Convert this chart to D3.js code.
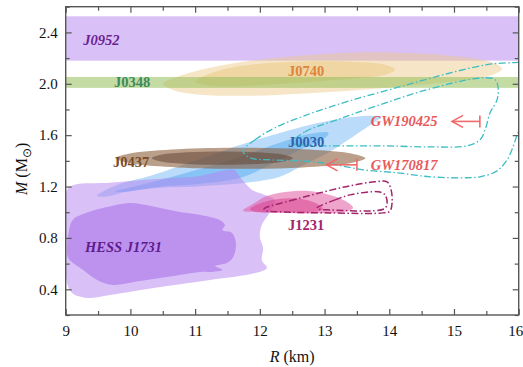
<!DOCTYPE html>
<html>
<head>
<meta charset="utf-8">
<script src="https://cdn.jsdelivr.net/npm/d3@7/dist/d3.min.js"></script>
<style>
  html, body { margin: 0; padding: 0; background: #fff; }
  svg { display: block; }
  text { font-family: "Liberation Serif", "Times New Roman", serif; }
</style>
</head>
<body>
<svg id="chart" width="523" height="367"></svg>
<script>
// ---------------- data (R in km, M in solar masses) ----------------
const xDomain = [9, 16];
const yDomain = [0.2, 2.6];
const xTickLabels = [9, 10, 11, 12, 13, 14, 15, 16];
const xMinorTicks = [9.5, 10.5, 11.5, 12.5, 13.5, 14.5, 15.5];
const yTickLabels = [0.4, 0.8, 1.2, 1.6, 2.0, 2.4];
const yMinorTicks = [0.2, 0.6, 1.0, 1.4, 1.8, 2.2, 2.6];

const j0952Band = [2.18, 2.525];
const j0348Band = [1.968, 2.053];

const hessOuter = [[9.02,1.174],[9.14,1.213],[9.68,1.229],[10.23,1.252],[10.69,1.268],[11.08,1.283],[11.42,1.322],[11.60,1.330],[11.70,1.268],[11.88,1.174],[12.08,1.135],[12.23,1.096],[12.16,1.003],[12.03,0.902],[12.00,0.808],[12.05,0.722],[12.03,0.629],[12.11,0.566],[11.93,0.527],[11.23,0.473],[10.46,0.418],[9.68,0.356],[9.33,0.333],[9.10,0.371],[9.02,0.449],[9.00,0.683],[9.00,0.940]];
const hessInner = [[9.11,0.940],[9.38,1.005],[9.68,1.044],[9.99,1.071],[10.35,1.044],[10.72,1.005],[11.08,0.979],[11.38,0.940],[11.46,0.901],[11.42,0.862],[11.57,0.839],[11.63,0.761],[11.59,0.654],[11.49,0.605],[11.31,0.582],[11.42,0.551],[11.23,0.535],[11.08,0.535],[10.61,0.499],[10.10,0.460],[9.73,0.434],[9.53,0.460],[9.27,0.551],[9.04,0.644],[9.02,0.732],[9.04,0.824]];

const j0030Outer = [[9.485,1.128],[9.84,1.221],[10.30,1.283],[10.72,1.353],[11.23,1.439],[11.65,1.517],[12.27,1.611],[12.78,1.681],[13.24,1.728],[13.70,1.751],[13.87,1.743],[13.78,1.704],[13.55,1.626],[13.08,1.470],[12.62,1.353],[12.31,1.276],[12.00,1.244],[11.43,1.213],[10.97,1.198],[10.46,1.190],[9.95,1.159],[9.61,1.120]];
const j0030Inner = [[9.76,1.159],[10.30,1.229],[10.92,1.315],[11.65,1.424],[12.31,1.541],[12.78,1.611],[13.06,1.619],[13.01,1.580],[12.62,1.486],[12.16,1.369],[11.70,1.268],[11.08,1.221],[10.46,1.198],[9.92,1.159]];

const j0437Outer = [[13.63,1.42],[13.371,1.461],[12.665,1.491],[11.70,1.502],[10.735,1.491],[10.029,1.461],[9.77,1.42],[10.029,1.379],[10.735,1.349],[11.70,1.338],[12.665,1.349],[13.371,1.379]];
const j0437Inner = [[12.51,1.421],[12.364,1.447],[11.965,1.466],[11.42,1.473],[10.875,1.466],[10.476,1.447],[10.33,1.421],[10.476,1.395],[10.875,1.376],[11.42,1.369],[11.965,1.376],[12.364,1.395]];

const j0740Outer = [[10.504,2.000],[10.767,2.063],[11.230,2.125],[11.849,2.180],[12.621,2.219],[13.394,2.242],[14.167,2.242],[14.940,2.219],[15.558,2.172],[15.743,2.117],[15.558,2.063],[14.940,2.016],[14.167,1.977],[13.394,1.946],[12.621,1.923],[11.849,1.907],[11.076,1.915],[10.689,1.946]];
const j0740Inner = [[10.998,2.016],[11.308,2.094],[11.849,2.149],[12.621,2.172],[13.394,2.172],[13.935,2.149],[14.090,2.110],[13.935,2.071],[13.394,2.039],[12.621,2.008],[11.849,1.985],[11.230,1.985]];

const j1231Outer = [[11.740,1.011],[11.926,1.073],[12.080,1.120],[12.312,1.151],[12.621,1.167],[12.853,1.159],[13.085,1.135],[13.317,1.089],[13.441,1.034],[13.317,1.003],[12.822,0.991],[12.312,0.995],[11.926,1.003]];
const j1231Inner = [[11.849,1.026],[12.034,1.073],[12.312,1.104],[12.621,1.104],[12.853,1.073],[12.977,1.026],[12.853,1.003],[12.312,0.999],[11.926,1.003]];
const j1231ContourOuter = [[12.065,1.026],[12.467,1.089],[12.930,1.151],[13.394,1.206],[13.780,1.237],[13.966,1.237],[14.028,1.174],[14.043,1.073],[14.012,1.010],[13.904,0.995],[13.085,0.995],[12.312,1.003],[12.096,1.011]];
const j1231ContourInner = [[12.884,1.034],[13.162,1.096],[13.394,1.135],[13.827,1.159],[13.935,1.135],[13.966,1.065],[13.920,1.026],[13.085,1.018],[12.899,1.026]];

const gwContourA = [[12.498,1.541],[12.699,1.626],[13.240,1.728],[13.858,1.837],[14.476,1.938],[15.141,2.024],[15.481,2.047],[15.635,2.032],[15.682,1.969],[15.666,1.876],[15.558,1.774],[15.481,1.642],[15.403,1.564],[15.202,1.517],[14.631,1.509],[13.858,1.517],[13.085,1.517],[12.621,1.524]];
const gwContourB = [[11.740,1.478],[11.926,1.564],[12.235,1.658],[12.776,1.767],[13.394,1.868],[14.167,1.977],[14.893,2.078],[15.511,2.149],[15.913,2.164],[16.145,2.156],[16.254,2.032],[16.223,1.837],[16.099,1.704],[15.990,1.619],[15.913,1.509],[15.820,1.408],[15.666,1.322],[15.403,1.276],[15.141,1.268],[14.631,1.276],[14.121,1.307],[13.595,1.330],[13.085,1.377],[12.621,1.400],[12.158,1.408],[11.849,1.424]];

const gwArrows = [
  { name: "GW190425", rMin: 14.97, rMax: 15.40, m: 1.707 },
  { name: "GW170817", rMin: 13.03, rMax: 13.50, m: 1.369 }
];

const labels = [
  { text: "J0952", r: 9.27, m: 2.299, color: "#6b1f93", italic: true },
  { text: "J0348", r: 9.746, m: 1.977, color: "#3a8c5c", italic: false },
  { text: "J0740", r: 12.436, m: 2.063, color: "#e0843a", italic: false },
  { text: "J0437", r: 9.731, m: 1.356, color: "#7b4a1e", italic: false },
  { text: "J0030", r: 12.436, m: 1.509, color: "#2e64ad", italic: false },
  { text: "GW190425", r: 13.714, m: 1.668, color: "#e8595a", italic: true },
  { text: "GW170817", r: 13.714, m: 1.330, color: "#e8595a", italic: true },
  { text: "J1231", r: 12.436, m: 0.863, color: "#a3246b", italic: false },
  { text: "HESS J1731", r: 9.298, m: 0.693, color: "#5e1b8f", italic: true }
];

// ---------------- drawing ----------------
const svg = d3.select("#chart");
const x = d3.scaleLinear().domain(xDomain).range([65.7, 518.7]);
const y = d3.scaleLinear().domain(yDomain).range([315, 6.7]);

svg.append("defs").append("clipPath").attr("id", "plotclip")
  .append("rect")
  .attr("x", x(xDomain[0])).attr("y", y(yDomain[1]))
  .attr("width", x(xDomain[1]) - x(xDomain[0]))
  .attr("height", y(yDomain[0]) - y(yDomain[1]));

const plot = svg.append("g").attr("clip-path", "url(#plotclip)");

const closed = d3.line().x(d => x(d[0])).y(d => y(d[1]))
  .curve(d3.curveCatmullRomClosed.alpha(0.5));

function band(b, fill) {
  plot.append("rect")
    .attr("x", x(xDomain[0])).attr("width", x(xDomain[1]) - x(xDomain[0]))
    .attr("y", y(b[1])).attr("height", y(b[0]) - y(b[1]))
    .attr("fill", fill);
}
function area(pts, fill) {
  plot.append("path").attr("d", closed(pts)).attr("fill", fill);
}
function contour(pts, color, width) {
  plot.append("path").attr("d", closed(pts))
    .attr("fill", "none").attr("stroke", color).attr("stroke-width", width)
    .attr("stroke-dasharray", "7,2.5,1.5,2.5");
}

band(j0952Band, "rgb(217,193,247)");
area(j0030Outer, "rgba(90,170,240,0.42)");
area(j0030Inner, "rgba(60,160,240,0.40)");
area(hessOuter, "rgba(180,130,240,0.5)");
area(hessInner, "rgba(160,100,230,0.5)");
area(j0437Outer, "rgba(140,95,60,0.6)");
area(j0437Inner, "rgba(100,70,55,0.55)");
area(j0740Outer, "rgba(235,200,130,0.45)");
area(j0740Inner, "rgba(230,195,120,0.45)");
band(j0348Band, "rgba(150,190,90,0.55)");
area(j1231Outer, "rgba(225,90,160,0.55)");
area(j1231Inner, "rgba(215,60,140,0.5)");

contour(gwContourA, "#3dbdc4", 1.3);
contour(gwContourB, "#3dbdc4", 1.3);
contour(j1231ContourOuter, "#a3246b", 1.5);
contour(j1231ContourInner, "#a3246b", 1.5);

// arrows
const arrowColor = "#ef6a6a";
gwArrows.forEach(a => {
  const g = svg.append("g").attr("stroke", arrowColor).attr("stroke-width", 1.6).attr("fill", "none");
  const x0 = x(a.rMin), x1 = x(a.rMax), yy = y(a.m);
  g.append("line").attr("x1", x0).attr("x2", x1).attr("y1", yy).attr("y2", yy);
  g.append("line").attr("x1", x1).attr("x2", x1).attr("y1", yy - 6).attr("y2", yy + 6);
  g.append("path").attr("d", `M${x0 + 11},${yy - 6}L${x0},${yy}L${x0 + 11},${yy + 6}`);
});

// labels
svg.append("g").selectAll("text").data(labels).join("text")
  .attr("x", d => x(d.r)).attr("y", d => y(d.m))
  .attr("fill", d => d.color)
  .attr("font-size", 14.5)
  .attr("font-weight", "bold")
  .attr("font-style", d => d.italic ? "italic" : "normal")
  .text(d => d.text);

// axes
const axisColor = "#555";
function styleAxis(g) {
  g.select(".domain").remove();
  g.selectAll(".tick line").attr("stroke", axisColor).attr("stroke-width", 1.2);
  g.selectAll(".tick text").attr("fill", "#111").attr("font-size", 15)
    .attr("font-family", '"Liberation Serif", "Times New Roman", serif');
}
const yTop = y(yDomain[1]), yBot = y(yDomain[0]), xL = x(xDomain[0]), xR = x(xDomain[1]);

const xAxisG = svg.append("g").attr("transform", `translate(0,${yBot})`)
  .call(d3.axisBottom(x).tickValues(xTickLabels).tickSize(-6).tickPadding(10).tickFormat(d3.format("d")))
  .call(styleAxis);
// keep the last label inside the window
xAxisG.selectAll(".tick text").filter(d => d === xDomain[1]).attr("text-anchor", "end").attr("x", 4);

svg.append("g").attr("transform", `translate(0,${yBot})`)
  .call(d3.axisBottom(x).tickValues(xMinorTicks).tickSize(-4).tickFormat(""))
  .call(styleAxis);
svg.append("g").attr("transform", `translate(0,${yTop})`)
  .call(d3.axisTop(x).tickValues(xTickLabels).tickSize(-6).tickFormat(""))
  .call(styleAxis);
svg.append("g").attr("transform", `translate(0,${yTop})`)
  .call(d3.axisTop(x).tickValues(xMinorTicks).tickSize(-4).tickFormat(""))
  .call(styleAxis);

svg.append("g").attr("transform", `translate(${xL},0)`)
  .call(d3.axisLeft(y).tickValues(yTickLabels).tickSize(-6).tickPadding(8).tickFormat(d3.format(".1f")))
  .call(styleAxis);
svg.append("g").attr("transform", `translate(${xL},0)`)
  .call(d3.axisLeft(y).tickValues(yMinorTicks).tickSize(-4).tickFormat(""))
  .call(styleAxis);
svg.append("g").attr("transform", `translate(${xR},0)`)
  .call(d3.axisRight(y).tickValues(yTickLabels).tickSize(-6).tickFormat(""))
  .call(styleAxis);
svg.append("g").attr("transform", `translate(${xR},0)`)
  .call(d3.axisRight(y).tickValues(yMinorTicks).tickSize(-4).tickFormat(""))
  .call(styleAxis);

svg.append("rect").attr("x", xL).attr("y", yTop).attr("width", xR - xL).attr("height", yBot - yTop)
  .attr("fill", "none").attr("stroke", axisColor).attr("stroke-width", 1.4);

// axis titles
const xt = svg.append("text").attr("x", (xL + xR) / 2).attr("y", 362)
  .attr("text-anchor", "middle").attr("font-size", 16).attr("fill", "#111");
xt.append("tspan").attr("font-style", "italic").text("R");
xt.append("tspan").text(" (km)");

const yt = svg.append("text").attr("transform", `translate(27,${(yTop + yBot) / 2 + 8}) rotate(-90)`)
  .attr("text-anchor", "middle").attr("font-size", 16).attr("fill", "#111");
yt.append("tspan").attr("font-style", "italic").text("M");
yt.append("tspan").text(" (M");
yt.append("tspan").attr("font-size", 12).attr("dy", 4).text("⊙");
yt.append("tspan").attr("dy", -4).text(")");
</script>
</body>
</html>
